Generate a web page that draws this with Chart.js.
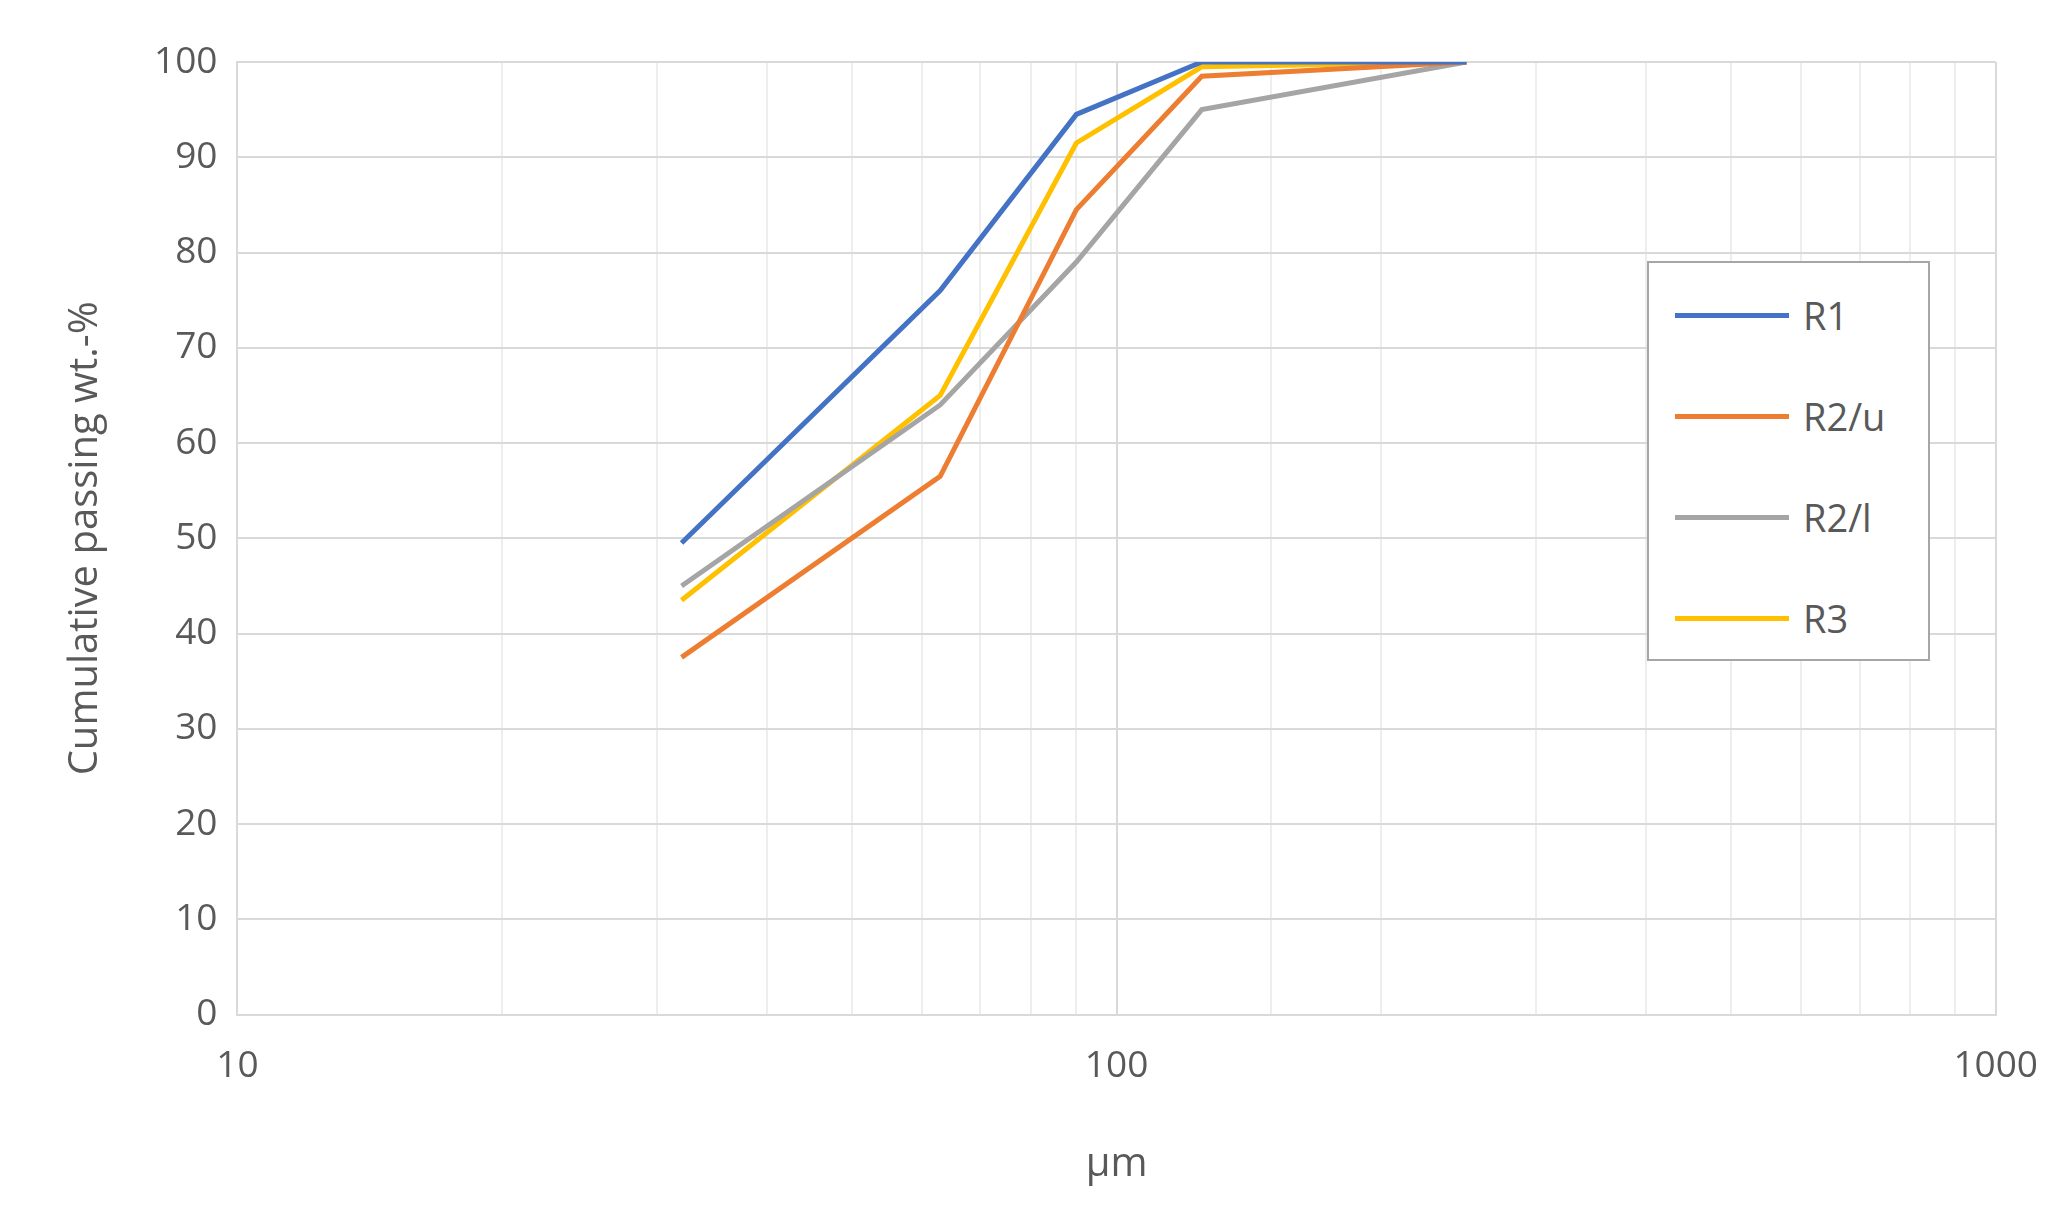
<!DOCTYPE html>
<html>
<head>
<meta charset="utf-8">
<script src="https://cdn.jsdelivr.net/npm/chart.js@4"></script>
<style>
  body { margin: 0; background: #fff; }
  #wrap { position: relative; width: 2068px; height: 1229px; }
  #legend { position: absolute; left: 1647px; top: 261px; width: 279px; height: 396px;
    border: 2px solid #a6a6a6; background: #fff; font-family: "Open Sans", sans-serif; font-size: 38px; color: #595959; }
  .item { position: absolute; left: 26px; display: flex; align-items: center; }
  .item span.l { display: inline-block; width: 114px; height: 5px; margin-right: 14px; }
</style>
</head>
<body>
<div id="wrap">
  <canvas id="chart" width="2068" height="1229"></canvas>
  <div id="legend"></div>
</div>
<script>
const sizes = [32, 63, 90, 125, 250];
const r1 = [49.5, 76, 94.5, 100, 100];
const r2u = [37.5, 56.5, 84.5, 98.5, 100];
const r2l = [45, 64, 79, 95, 100];
const r3 = [43.5, 65, 91.5, 99.5, 100];
const seriesNames = ["R1", "R2/u", "R2/l", "R3"];
const seriesColors = ["#4472c4", "#ed7d31", "#a5a5a5", "#ffc000"];
const xTickLabels = [10, 100, 1000];

const allData = [r1, r2u, r2l, r3];
const datasets = allData.map((vals, i) => ({
  label: seriesNames[i],
  data: vals.map((v, j) => ({ x: sizes[j], y: v })),
  borderColor: seriesColors[i],
  borderWidth: 5,
  pointRadius: 0,
  tension: 0,
  fill: false
}));

const legend = document.getElementById("legend");
seriesNames.forEach((n, i) => {
  const d = document.createElement("div");
  d.className = "item";
  d.style.top = (26 + i * 101) + "px";
  d.innerHTML = '<span class="l" style="background:' + seriesColors[i] + '"></span>' + n;
  legend.appendChild(d);
});

const font = { family: "'Open Sans', sans-serif", size: 37 };
new Chart(document.getElementById("chart"), {
  type: "line",
  data: { datasets: datasets },
  options: {
    responsive: false,
    animation: false,
    layout: { padding: { top: 62, right: 70, left: 58, bottom: 36 } },
    plugins: { legend: { display: false }, tooltip: { enabled: false } },
    scales: {
      x: {
        type: "logarithmic",
        min: 10, max: 1000,
        ticks: {
          color: "#595959", font: font, maxRotation: 0, autoSkip: false, padding: 30,
          callback: v => xTickLabels.includes(v) ? String(v) : ""
        },
        grid: {
          color: ctx => xTickLabels.includes(ctx.tick && ctx.tick.value) ? "#d9d9d9" : "#eeeeee",
          lineWidth: 2, drawTicks: false
        },
        border: { color: "#d9d9d9", width: 2 },
        title: { display: true, text: "µm", color: "#595959", font: { family: "'Open Sans', sans-serif", size: 40 }, padding: { top: 22 } }
      },
      y: {
        min: 0, max: 100,
        ticks: { stepSize: 10, color: "#595959", font: font, padding: 20 },
        grid: { color: "#d9d9d9", lineWidth: 2, drawTicks: false },
        border: { color: "#d9d9d9", width: 2 },
        title: { display: true, text: "Cumulative passing wt.-%", color: "#595959", font: { family: "'Open Sans', sans-serif", size: 40 }, padding: { bottom: 24 } }
      }
    }
  }
});
</script>
</body>
</html>
